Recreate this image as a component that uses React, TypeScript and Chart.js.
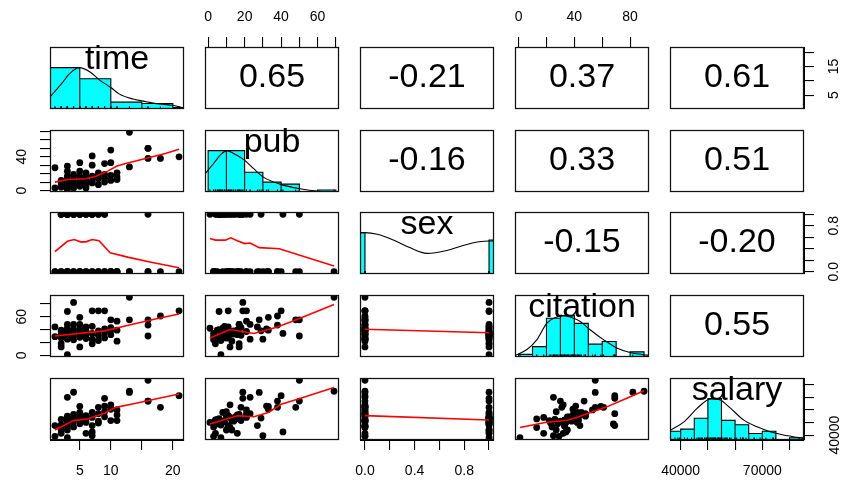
import React, { useEffect, useRef } from 'react';
import { Chart, registerables } from 'chart.js';

Chart.register(...registerables);

const FONT = '"Liberation Sans", Arial, Helvetica, sans-serif';
Chart.defaults.font.family = FONT;

// ---------------- data (62 faculty) ----------------
const varNames = ['time', 'pub', 'sex', 'citation', 'salary'];

const time = [1, 1, 2, 2, 2, 2, 2, 3, 3, 3, 3, 3, 3, 3, 3, 3, 3, 4, 4, 4, 4, 4, 4, 5, 5, 5, 5, 5, 5, 5, 6, 6, 6, 6, 6, 7, 7, 7, 7, 7, 8, 8, 8, 8, 9, 9, 9, 9, 10, 10, 10, 10, 11, 11, 11, 13, 13, 16, 16, 16, 18, 21];
const pub = [3, 27, 4, 12, 7, 10, 5, 23, 7, 6, 17, 13, 9, 4, 29, 1, 11, 19, 17, 8, 12, 3, 6, 33, 23, 17, 10, 5, 14, 8, 21, 16, 6, 11, 3, 41, 11, 17, 9, 30, 21, 18, 14, 7, 19, 32, 15, 10, 48, 33, 18, 12, 21, 13, 16, 69, 28, 50, 38, 50, 38, 40];
const sex = [0, 0, 1, 0, 1, 1, 0, 0, 1, 1, 0, 1, 1, 0, 1, 1, 0, 1, 0, 1, 1, 0, 1, 0, 1, 1, 0, 1, 1, 0, 1, 0, 1, 1, 0, 1, 0, 1, 1, 0, 0, 1, 0, 1, 1, 0, 1, 0, 0, 0, 0, 0, 0, 0, 0, 0, 0, 0, 0, 1, 0, 0];
const citation = [29, 44, 18, 13, 33, 27, 39, 25, 1, 68, 48, 35, 31, 26, 38, 42, 33, 82, 48, 30, 36, 24, 40, 59, 48, 13, 36, 28, 33, 42, 37, 32, 26, 44, 34, 34, 69, 18, 45, 25, 69, 31, 38, 23, 69, 41, 35, 27, 55, 39, 43, 32, 53, 22, 39, 90, 55, 55, 47, 30, 61, 69];
const salary = [39000, 47500, 41400, 46000, 48000, 44000, 52500, 70000, 37900, 48800, 55000, 44000, 50500, 52000, 53500, 50000, 47000, 74000, 56500, 51000, 54000, 46500, 53000, 62800, 57000, 52800, 54500, 49000, 52000, 58000, 54000, 41400, 52500, 55500, 50000, 42500, 47500, 54000, 58000, 39500, 57000, 62000, 51000, 49500, 69200, 63000, 54500, 58500, 62000, 60500, 51500, 64000, 60000, 51500, 56000, 74800, 73900, 83500, 67000, 67000, 62000, 71300];

// correlations (upper panels): [row, col, r]
const correlations: [number, number, number][] = [
  [0, 1, 0.65], [0, 2, -0.21], [0, 3, 0.37], [0, 4, 0.61],
  [1, 2, -0.16], [1, 3, 0.33], [1, 4, 0.51],
  [2, 3, -0.15], [2, 4, -0.2],
  [3, 4, 0.55],
];

// histograms (diagonal): bin breaks and counts
const timeBreaks = [0, 5, 10, 15, 20, 25];
const timeCounts = [30, 22, 5, 4, 1];
const pubBreaks = [0, 10, 20, 30, 40, 50, 60, 70];
const pubCounts = [21, 21, 10, 5, 4, 0, 1];
const sexBreaks = [-0.05, 0, 1, 1.05];
const sexCounts = [34, 0, 28];
const citBreaks = [0, 10, 20, 30, 40, 50, 60, 70, 80, 90];
const citCounts = [1, 4, 15, 16, 13, 5, 6, 0, 2];
const salBreaks = [35000, 40000, 45000, 50000, 55000, 60000, 65000, 70000, 75000, 80000, 85000];
const salCounts = [4, 5, 10, 19, 9, 7, 3, 4, 0, 1];

// density curves (scaled so that the peak is 1)
const timeDensX = [0.2, 2.1, 3.4, 4.9, 6.6, 8.2, 10, 11.4, 13.6, 15.2, 17.3, 20, 21.8];
const timeDensY = [0.29, 0.62, 0.86, 1.0, 0.9, 0.7, 0.52, 0.36, 0.24, 0.19, 0.13, 0.09, 0.025];
const pubDensX = [-1.7, 3, 6.6, 10.3, 13.9, 19.9, 24.8, 30.3, 39.4, 50.3, 61.2, 71.7];
const pubDensY = [0.44, 0.69, 0.89, 1.0, 0.93, 0.77, 0.57, 0.36, 0.19, 0.08, 0.02, 0.0];
const sexDensX = [-0.04, 0.0, 0.1, 0.23, 0.36, 0.5, 0.66, 0.79, 0.92, 1.0, 1.04];
const sexDensY = [1.0, 1.0, 0.96, 0.82, 0.64, 0.5, 0.57, 0.69, 0.78, 0.8, 0.8];
const citDensX = [-2.56, 6, 13.2, 20.3, 27.5, 32.2, 37, 44.2, 51.3, 60.9, 70.4, 80, 89.5, 93.5];
const citDensY = [0.04, 0.18, 0.42, 0.82, 0.97, 1.0, 0.97, 0.86, 0.66, 0.42, 0.22, 0.11, 0.056, 0.04];
const salDensX = [36100, 41200, 46100, 49800, 52200, 54600, 58300, 63200, 68100, 72900, 77800, 82700, 85300];
const salDensY = [0.23, 0.44, 0.77, 0.97, 1.0, 0.97, 0.77, 0.48, 0.32, 0.2, 0.12, 0.065, 0.04];

// lowess smooths (lower panels)
const lowTimePubX = [1, 3, 6, 7.6, 9.5, 11, 12.4, 14.5, 16.7, 18.8, 21];
const lowTimePubY = [10, 13, 14, 17, 23, 29, 32, 36, 40, 44, 49];
const lowTimeSexX = [1, 3, 4.1, 5.1, 6, 7, 8.1, 9.9, 12.9, 16.3, 21];
const lowTimeSexY = [0.35, 0.53, 0.56, 0.52, 0.52, 0.56, 0.54, 0.33, 0.25, 0.17, 0.07];
const lowTimeCitX = [1, 5, 9, 13, 17, 21];
const lowTimeCitY = [30, 34, 38, 47, 56, 64];
const lowTimeSalX = [1, 4, 6.2, 9, 10.8, 13.5, 17.2, 21];
const lowTimeSalY = [44000, 51500, 52800, 57300, 62000, 64700, 68700, 72600];
const lowPubSexX = [1, 4, 9.4, 12.4, 16, 20, 23, 28, 39, 69];
const lowPubSexY = [0.58, 0.55, 0.55, 0.59, 0.54, 0.49, 0.5, 0.42, 0.4, 0.1];
const lowPubCitX = [1, 12, 25, 38, 49, 69];
const lowPubCitY = [27, 40, 34, 44, 56, 79];
const lowPubSalX = [1, 16, 25, 33, 40, 49, 69];
const lowPubSalY = [48800, 55300, 54600, 58000, 64500, 68500, 77700];
const lowSexCitX = [0, 1];
const lowSexCitY = [40.5, 35];
const lowSexSalX = [0, 1];
const lowSexSalY = [55400, 52000];
const lowCitSalX = [1, 19, 35, 43, 62, 76, 90];
const lowCitSalY = [46000, 50000, 51700, 54500, 61800, 68500, 75200];

// axis ticks and the labels that are printed
const timeTicks = [5, 10, 15, 20];
const pubTicks = [0, 10, 20, 30, 40, 50, 60, 70];
const sexTicks = [0, 0.2, 0.4, 0.6, 0.8, 1.0];
const citTicks = [0, 20, 40, 60, 80];
const salTicks = [40000, 50000, 60000, 70000, 80000];
const timeBottomLabels = ['5', '10', '', '20'];
const timeRightLabels = ['5', '', '15', ''];
const pubTopLabels = ['0', '', '20', '', '40', '', '60', ''];
const pubLeftLabels = ['0', '', '', '', '40', '', '', ''];
const sexBottomLabels = ['0.0', '', '0.4', '', '0.8', ''];
const sexRightLabels = ['0.0', '', '', '', '0.8', ''];
const citTopLabels = ['0', '', '40', '', '80'];
const citLeftLabels = ['0', '', '', '60', ''];
const salBottomLabels = ['40000', '', '', '70000', ''];
const salRightLabels = ['40000', '', '', '', ''];

// ---------------- layout ----------------
const M = 44;
const colLeft = [50, 205, 360, 515, 670];
const rowTop = [47, 130, 212, 295, 378];
const BOX_W = 134;
const BOX_H = 62;

const vars = [time, pub, sex, citation, salary];
const zip = (xs: number[], ys: number[]) => xs.map((x, i) => ({ x, y: ys[i] }));
const rangeOf = (a: number[]) => {
  const lo = Math.min(...a);
  const hi = Math.max(...a);
  const d = (hi - lo) * 0.04;
  return [lo - d, hi + d];
};
const ranges = vars.map(rangeOf);

const hists: Record<number, [number[], number[]]> = {
  0: [timeBreaks, timeCounts], 1: [pubBreaks, pubCounts], 2: [sexBreaks, sexCounts],
  3: [citBreaks, citCounts], 4: [salBreaks, salCounts],
};
const dens: Record<number, [number[], number[]]> = {
  0: [timeDensX, timeDensY], 1: [pubDensX, pubDensY], 2: [sexDensX, sexDensY],
  3: [citDensX, citDensY], 4: [salDensX, salDensY],
};
const lowess: Record<string, [number[], number[]]> = {
  '1-0': [lowTimePubX, lowTimePubY], '2-0': [lowTimeSexX, lowTimeSexY],
  '3-0': [lowTimeCitX, lowTimeCitY], '4-0': [lowTimeSalX, lowTimeSalY],
  '2-1': [lowPubSexX, lowPubSexY], '3-1': [lowPubCitX, lowPubCitY],
  '4-1': [lowPubSalX, lowPubSalY], '3-2': [lowSexCitX, lowSexCitY],
  '4-2': [lowSexSalX, lowSexSalY], '4-3': [lowCitSalX, lowCitSalY],
};

const histPath = (breaks: number[], counts: number[]) => {
  const mx = Math.max(...counts);
  const pts: { x: number; y: number }[] = [];
  counts.forEach((c, k) => {
    const h = c / mx;
    pts.push({ x: breaks[k], y: 0 }, { x: breaks[k], y: h }, { x: breaks[k + 1], y: h }, { x: breaks[k + 1], y: 0 });
  });
  return pts;
};

type Side = 'top' | 'bottom' | 'left' | 'right';

function axisScale(side: Side, range: number[], ticks: number[], labels: string[], padding: number) {
  const vertical = side === 'left' || side === 'right';
  return {
    type: 'linear',
    axis: vertical ? 'y' : 'x',
    position: side,
    display: true,
    min: range[0],
    max: range[1],
    afterBuildTicks: (s: any) => {
      s.ticks = ticks.map((v) => ({ value: v }));
    },
    afterFit: (s: any) => {
      if (vertical) s.width = M;
      else s.height = M;
    },
    ticks: {
      autoSkip: false,
      minRotation: vertical ? 90 : 0,
      maxRotation: vertical ? 90 : 0,
      crossAlign: vertical ? 'center' : 'near',
      padding,
      color: '#000',
      font: { family: FONT, size: 14 },
      callback: (_v: any, i: number) => labels[i] ?? '',
    },
    grid: { display: true, drawOnChartArea: false, drawTicks: true, tickLength: 10, color: '#000', lineWidth: 1.1 },
    border: { display: true, color: '#000', width: 1 },
  };
}

const hidden = (range: number[]) => ({ type: 'linear', display: false, min: range[0], max: range[1] });

const panelDeco = {
  id: 'panelDeco',
  afterDraw(chart: any, _args: any, opts: any) {
    const { ctx, chartArea: a } = chart;
    ctx.save();
    ctx.strokeStyle = '#111';
    ctx.lineWidth = 1.25;
    ctx.strokeRect(a.left + 0.5, a.top + 0.5, a.right - a.left - 1, a.bottom - a.top - 1);
    if (opts && opts.text) {
      ctx.fillStyle = '#000';
      ctx.font = `34px ${FONT}`;
      ctx.textAlign = 'center';
      const cx = (a.left + a.right) / 2;
      if (opts.kind === 'corr') {
        ctx.textBaseline = 'middle';
        ctx.fillText(opts.text, cx, (a.top + a.bottom) / 2);
      } else {
        ctx.textBaseline = 'alphabetic';
        ctx.fillText(opts.text, cx, a.top + 22);
      }
    }
    ctx.restore();
  },
};

function buildConfig(r: number, c: number): any {
  const padding = { left: M, right: M, top: M, bottom: M };
  const scales: any = {};
  let xAxis: any = hidden(ranges[c]);
  // x axes
  if (r === 0 && c === 1) { xAxis = axisScale('top', ranges[1], pubTicks, pubTopLabels, 11); padding.top = 0; }
  if (r === 0 && c === 3) { xAxis = axisScale('top', ranges[3], citTicks, citTopLabels, 11); padding.top = 0; }
  if (r === 4 && c === 0) { xAxis = axisScale('bottom', ranges[0], timeTicks, timeBottomLabels, 13); padding.bottom = 0; }
  if (r === 4 && c === 2) { xAxis = axisScale('bottom', ranges[2], sexTicks, sexBottomLabels, 13); padding.bottom = 0; }
  if (r === 4 && c === 4) { xAxis = axisScale('bottom', ranges[4], salTicks, salBottomLabels, 13); padding.bottom = 0; }
  scales.x = xAxis;
  scales.y = r === c ? hidden([0, 1.5]) : hidden(ranges[r]);
  // y axes
  if (c === 0 && r === 1) { scales.ya = axisScale('left', ranges[1], pubTicks, pubLeftLabels, 10.5); padding.left = 0; }
  if (c === 0 && r === 3) { scales.ya = axisScale('left', ranges[3], citTicks, citLeftLabels, 10.5); padding.left = 0; }
  if (c === 4 && r === 0) { scales.ya = axisScale('right', ranges[0], timeTicks, timeRightLabels, 12); padding.right = 0; }
  if (c === 4 && r === 2) { scales.ya = axisScale('right', ranges[2], sexTicks, sexRightLabels, 10); padding.right = 0; }
  if (c === 4 && r === 4) { scales.ya = axisScale('right', ranges[4], salTicks, salRightLabels, 1.5); padding.right = 0; }

  let datasets: any[] = [];
  let deco: any = {};
  if (r === c) {
    const [hb, hc] = hists[c];
    const [dx, dy] = dens[c];
    datasets = [
      {
        type: 'scatter', data: vars[c].map((v) => ({ x: v, y: 0 })), pointStyle: 'line', rotation: 90,
        pointRadius: 2.5, borderColor: '#000', borderWidth: 1, backgroundColor: '#000',
      },
      {
        type: 'line', data: zip(dx, dy), borderColor: '#000', borderWidth: 1.1, pointRadius: 0,
        cubicInterpolationMode: 'monotone', fill: false,
      },
      {
        type: 'line', data: histPath(hb, hc), borderColor: '#000', borderWidth: 1.1, pointRadius: 0,
        tension: 0, fill: 'origin', backgroundColor: '#00FFFF',
      },
    ];
    deco = { kind: 'label', text: varNames[c] };
  } else if (r < c) {
    const cor = correlations.find((e) => e[0] === r && e[1] === c);
    deco = { kind: 'corr', text: cor ? cor[2].toFixed(2) : '' };
  } else {
    const [lx, ly] = lowess[`${r}-${c}`];
    datasets = [
      { type: 'line', data: zip(lx, ly), borderColor: '#FF0000', borderWidth: 1.6, pointRadius: 0, tension: 0, fill: false },
      {
        type: 'scatter', data: vars[c].map((v, i) => ({ x: v, y: vars[r][i] })), pointRadius: 3.4,
        pointHoverRadius: 3.4, backgroundColor: '#000', borderWidth: 0,
      },
    ];
  }

  return {
    type: 'scatter',
    data: { datasets },
    options: {
      animation: false,
      responsive: false,
      events: [],
      layout: { padding },
      scales,
      plugins: { legend: { display: false }, tooltip: { enabled: false }, panelDeco: deco },
    },
    plugins: [panelDeco],
  };
}

function Panel({ r, c }: { r: number; c: number }) {
  const ref = useRef<HTMLCanvasElement>(null);
  useEffect(() => {
    const chart = new Chart(ref.current as HTMLCanvasElement, buildConfig(r, c));
    return () => chart.destroy();
  }, [r, c]);
  const w = BOX_W + 2 * M;
  const h = BOX_H + 2 * M;
  return (
    <canvas
      ref={ref}
      width={w}
      height={h}
      style={{ position: 'absolute', left: colLeft[c] - M, top: rowTop[r] - M, width: w, height: h }}
    />
  );
}

export default function App() {
  const cells: React.ReactNode[] = [];
  for (let r = 0; r < 5; r++) for (let c = 0; c < 5; c++) cells.push(<Panel key={`${r}-${c}`} r={r} c={c} />);
  return (
    <div style={{ position: 'absolute', left: 0, top: 0, width: 844, height: 482, overflow: 'hidden', background: '#fff' }}>
      {cells}
    </div>
  );
}
